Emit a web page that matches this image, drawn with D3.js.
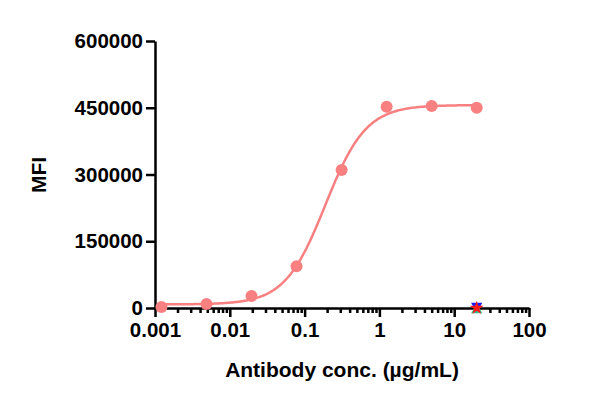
<!DOCTYPE html>
<html>
<head>
<meta charset="utf-8">
<script src="https://cdn.jsdelivr.net/npm/d3@7"></script>
<style>
  body { margin: 0; background: #fff; }
  text { font-family: "Liberation Sans", Arial, sans-serif; font-weight: bold; fill: #000; }
</style>
</head>
<body>
<svg id="chart" width="595" height="401"></svg>
<script>
    // 4-fold dilution series from 20 ug/mL
    var conc = [0.00122, 0.00488, 0.0195, 0.078, 0.3125, 1.25, 5, 20];
    var mfi = [2000, 9000, 27000, 94000, 310000, 452000, 454000, 450000];

    // isotype controls at top concentration
    var controlConc = [20, 20, 20];
    var controlMfi = [0, 0, 0];
    var controlColors = ["#1a1aff", "#2ebf8a", "#ff1a1a"];

    // 4PL fit: bottom, top, EC50, hill
    var fitParams = [8000, 456000, 0.19, 1.6];

    var yTicks = [0, 150000, 300000, 450000, 600000];
    var xTicks = [0.001, 0.01, 0.1, 1, 10, 100];
    var xTickLabels = ["0.001", "0.01", "0.1", "1", "10", "100"];

    var pink = "#f88080";

    var svg = d3.select("#chart");
    var xScale = d3.scaleLog().domain([0.001, 100]).range([155, 529]);
    var yScale = d3.scaleLinear().domain([0, 600000]).range([308, 41]);

    // minor ticks 2..9 of each decade
    var minorTicks = [];
    xTicks.slice(0, -1).forEach(function(t) {
      for (var k = 2; k < 10; k++) minorTicks.push(t * k);
    });

    var minorAxis = svg.append("g")
      .attr("transform", "translate(0," + yScale(0) + ")")
      .call(d3.axisBottom(xScale).tickValues(minorTicks).tickSize(5).tickSizeOuter(0).tickFormat(""));
    minorAxis.select(".domain").remove();

    var xAxis = svg.append("g")
      .attr("transform", "translate(0," + yScale(0) + ")")
      .call(d3.axisBottom(xScale).tickValues(xTicks).tickSize(9).tickSizeOuter(0).tickPadding(5)
        .tickFormat(function(d, i) { return xTickLabels[i]; }));

    var yAxis = svg.append("g")
      .attr("transform", "translate(" + xScale(0.001) + ",0)")
      .call(d3.axisLeft(yScale).tickValues(yTicks).tickSize(9).tickSizeOuter(0).tickPadding(3)
        .tickFormat(d3.format("d")));

    svg.selectAll(".tick line, .domain").attr("stroke", "#000").attr("stroke-width", 2.5);
    svg.selectAll(".tick text").style("font-size", "20.5px").style("font-family", "Liberation Sans, Arial, sans-serif").style("font-weight", "bold");

    // fitted curve
    function fourPL(x) {
      return fitParams[0] + (fitParams[1] - fitParams[0]) / (1 + Math.pow(fitParams[2] / x, fitParams[3]));
    }
    var curveX = d3.range(0, 201).map(function(i) { return Math.pow(10, Math.log10(0.00122) + i * (Math.log10(20) - Math.log10(0.00122)) / 200); });
    svg.append("path")
      .datum(curveX)
      .attr("fill", "none")
      .attr("stroke", pink)
      .attr("stroke-width", 2.5)
      .attr("d", d3.line().x(function(d) { return xScale(d); }).y(function(d) { return yScale(fourPL(d)); }));

    svg.selectAll(".pt")
      .data(conc)
      .enter().append("circle")
      .attr("cx", function(d) { return xScale(d); })
      .attr("cy", function(d, i) { return yScale(mfi[i]); })
      .attr("r", 6)
      .attr("fill", pink);

    // control markers
    var shapes = [d3.symbolTriangle, d3.symbolTriangle, d3.symbolStar];
    var rot = [180, 0, 0];
    var dy = [-2, 2, 0];
    controlConc.forEach(function(c, i) {
      svg.append("path")
        .attr("d", d3.symbol().type(shapes[i]).size(i == 2 ? 60 : 55)())
        .attr("transform", "translate(" + xScale(c) + "," + (yScale(controlMfi[i]) + dy[i]) + ") rotate(" + rot[i] + ")")
        .attr("fill", controlColors[i]);
    });

    svg.append("text")
      .attr("x", 342)
      .attr("y", 377)
      .attr("text-anchor", "middle")
      .style("font-size", "21px")
      .text("Antibody conc. (µg/mL)");

    svg.append("text")
      .attr("transform", "translate(46,175) rotate(-90)")
      .attr("text-anchor", "middle")
      .style("font-size", "21px")
      .text("MFI");
</script>
</body>
</html>
